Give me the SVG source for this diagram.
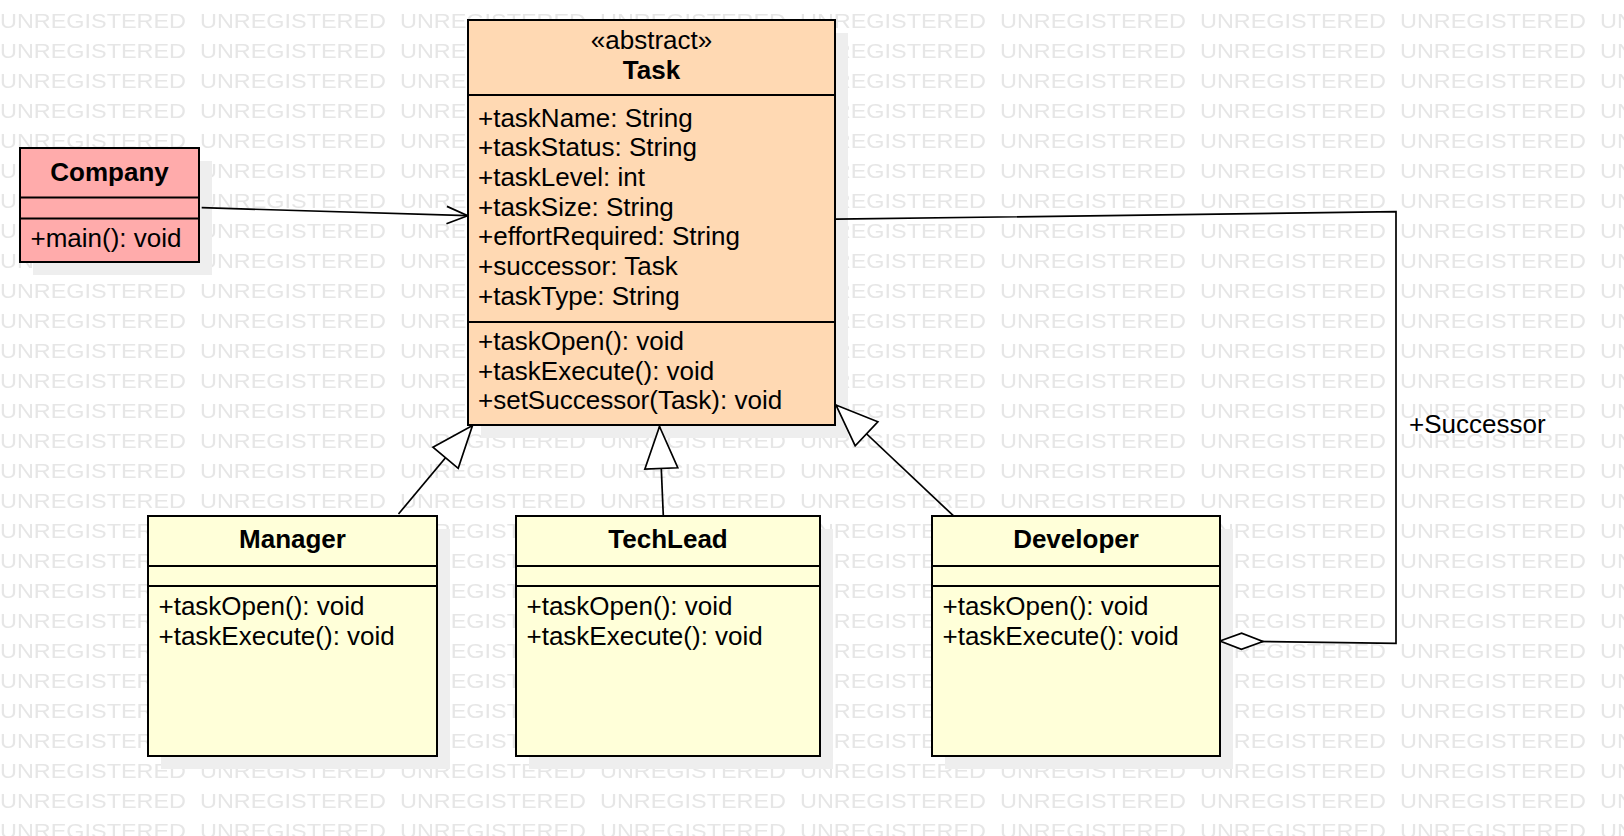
<svg xmlns="http://www.w3.org/2000/svg" width="1624" height="836" viewBox="0 0 1624 836">
<style>
  .wm { font-family: "Liberation Sans", Arial, sans-serif; font-size: 20px; fill: #e6e6e6; }
  .box { stroke: #000; stroke-width: 2; }
  .shadow { fill: #eeeeee; stroke: none; }
  .sep { stroke: #000; stroke-width: 2; }
  .t { font-family: "Liberation Sans", Arial, sans-serif; font-size: 26px; fill: #000; }
  .b { font-weight: bold; text-anchor: middle; }
  .c { text-anchor: middle; }
  .conn { fill: none; stroke: #000; stroke-width: 1.7; }
  .task { fill: #ffd9b3; }
  .company { fill: #ffabab; }
  .sub { fill: #ffffd9; }
</style>
<defs>
  <pattern id="wmp" patternUnits="userSpaceOnUse" x="0" y="0" width="200" height="30">
    <text class="wm" x="0" y="28.3" textLength="186" lengthAdjust="spacingAndGlyphs">UNREGISTERED</text>
  </pattern>
  <marker id="open" markerUnits="userSpaceOnUse" viewBox="0 0 22 18" markerWidth="22" markerHeight="18" refX="21" refY="9" orient="auto" overflow="visible">
    <path d="M0,0.3 L21,9 L0,17.7" fill="none" stroke="#000" stroke-width="1.7"/>
  </marker>
  <marker id="gen" markerUnits="userSpaceOnUse" viewBox="0 0 42 33" markerWidth="42" markerHeight="33" refX="42" refY="16.5" orient="auto" overflow="visible">
    <path d="M0,0 L42,16.5 L0,33 Z" fill="#fff" stroke="#000" stroke-width="1.7"/>
  </marker>
  <marker id="diamond" markerUnits="userSpaceOnUse" viewBox="0 0 43 16" markerWidth="43" markerHeight="16" refX="43" refY="8" orient="auto" overflow="visible">
    <path d="M0,8 L21.5,0 L43,8 L21.5,16 Z" fill="#fff" stroke="#000" stroke-width="1.7"/>
  </marker>
</defs>
<rect x="0" y="0" width="1624" height="836" fill="#fff"/>
<rect id="watermark" x="0" y="0" width="1624" height="836" fill="url(#wmp)"/>

<g id="shadows">
  <rect class="shadow" x="33" y="161" width="179" height="114"/>
  <rect class="shadow" x="481" y="33" width="367" height="405"/>
  <rect class="shadow" x="161" y="529" width="289" height="240"/>
  <rect class="shadow" x="529" y="529" width="304" height="240"/>
  <rect class="shadow" x="945" y="529" width="288" height="240"/>
</g>

<g id="connectors">
  <path class="conn" d="M201.7,207.7 L467.7,215.7" marker-end="url(#open)"/>
  <path class="conn" d="M836,219.2 L1396,211.7 L1396,643.3 L1220,641" marker-end="url(#diamond)"/>
  <path class="conn" d="M398.5,514 L472.5,425.5" marker-end="url(#gen)"/>
  <path class="conn" d="M663.3,515.7 L659.5,426.5" marker-end="url(#gen)"/>
  <path class="conn" d="M953.3,515.7 L836,405" marker-end="url(#gen)"/>
  <text class="t" x="1409" y="432.7">+Successor</text>
</g>

<g id="Company">
  <rect class="box company" x="20" y="148" width="179" height="114"/>
  <line class="sep" x1="20" y1="197.5" x2="199" y2="197.5"/>
  <line class="sep" x1="20" y1="218.5" x2="199" y2="218.5"/>
  <text class="t b" x="109.5" y="180.5">Company</text>
  <text class="t" x="30.5" y="246.7">+main(): void</text>
</g>

<g id="Task">
  <rect class="box task" x="468" y="20" width="367" height="405"/>
  <line class="sep" x1="468" y1="95" x2="835" y2="95"/>
  <line class="sep" x1="468" y1="322" x2="835" y2="322"/>
  <text class="t c" x="651.5" y="48.8">«abstract»</text>
  <text class="t b" x="651.5" y="78.8">Task</text>
  <text class="t" x="478" y="126.5">+taskName: String</text>
  <text class="t" x="478" y="156.2">+taskStatus: String</text>
  <text class="t" x="478" y="185.9">+taskLevel: int</text>
  <text class="t" x="478" y="215.6">+taskSize: String</text>
  <text class="t" x="478" y="245.3">+effortRequired: String</text>
  <text class="t" x="478" y="275">+successor: Task</text>
  <text class="t" x="478" y="304.7">+taskType: String</text>
  <text class="t" x="478" y="350">+taskOpen(): void</text>
  <text class="t" x="478" y="379.7">+taskExecute(): void</text>
  <text class="t" x="478" y="409.4">+setSuccessor(Task): void</text>
</g>

<g id="Manager">
  <rect class="box sub" x="148" y="516" width="289" height="240"/>
  <line class="sep" x1="148" y1="566" x2="437" y2="566"/>
  <line class="sep" x1="148" y1="586" x2="437" y2="586"/>
  <text class="t b" x="292.5" y="548.3">Manager</text>
  <text class="t" x="158.5" y="615">+taskOpen(): void</text>
  <text class="t" x="158.5" y="644.7">+taskExecute(): void</text>
</g>

<g id="TechLead">
  <rect class="box sub" x="516" y="516" width="304" height="240"/>
  <line class="sep" x1="516" y1="566" x2="820" y2="566"/>
  <line class="sep" x1="516" y1="586" x2="820" y2="586"/>
  <text class="t b" x="668" y="548.3">TechLead</text>
  <text class="t" x="526.5" y="615">+taskOpen(): void</text>
  <text class="t" x="526.5" y="644.7">+taskExecute(): void</text>
</g>

<g id="Developer">
  <rect class="box sub" x="932" y="516" width="288" height="240"/>
  <line class="sep" x1="932" y1="566" x2="1220" y2="566"/>
  <line class="sep" x1="932" y1="586" x2="1220" y2="586"/>
  <text class="t b" x="1076" y="548.3">Developer</text>
  <text class="t" x="942.5" y="615">+taskOpen(): void</text>
  <text class="t" x="942.5" y="644.7">+taskExecute(): void</text>
</g>
</svg>
